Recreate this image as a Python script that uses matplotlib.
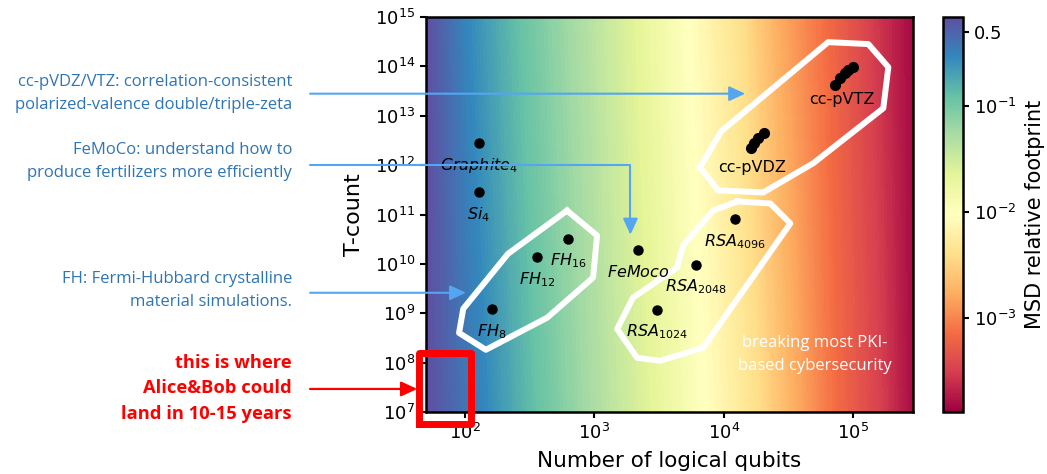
import numpy as np
import matplotlib
matplotlib.use("Agg")
import matplotlib.pyplot as plt
from matplotlib.colors import LogNorm
from matplotlib.cm import ScalarMappable

# algorithms: (logical qubits, T-count)
names = ["$Graphite_4$", "$Si_4$", "$FH_{8}$", "$FH_{12}$", "$FH_{16}$", "$FeMoco$",
         "$RSA_{1024}$", "$RSA_{2048}$", "$RSA_{4096}$"]
qubits = [128, 128, 162, 361, 631, 2180, 3050, 6120, 12250]
tcount = [2.75e12, 2.8e11, 1.2e9, 1.35e10, 3.2e10, 1.95e10, 1.17e9, 9.7e9, 8.0e10]

vdz_qubits = [16300, 17200, 18450, 20500]
vdz_tcount = [2.2e12, 2.77e12, 3.5e12, 4.4e12]
vtz_qubits = [72800, 79400, 86900, 91600, 100000]
vtz_tcount = [4.2e13, 5.8e13, 7.3e13, 8.4e13, 9.7e13]

# white outlines round the groups
fh_hull_q = [615, 1050, 977, 431, 145, 90, 97, 215]
fh_hull_t = [1.2e11, 3.75e10, 5.26e9, 8.1e8, 1.82e8, 4.0e8, 1.23e9, 1.6e10]
rsa_hull_q = [12700, 22900, 32700, 6930, 3220, 2140, 1500, 1990, 4365, 4850, 8280]
rsa_hull_t = [1.84e11, 1.67e11, 6.6e10, 2.0e8, 1.09e8, 1.25e8, 4.8e8, 2.07e9, 8.4e9, 2.35e10, 1.2e11]
cc_hull_q = [6560, 9550, 64100, 131000, 187000, 171000, 49100, 20200, 9060]
cc_hull_t = [9.0e11, 4.84e12, 3.1e14, 2.83e14, 9.66e13, 1.42e13, 1.09e12, 2.8e11, 3.07e11]

fp_values = [0.69, 0.29, 0.124, 0.053, 0.0223, 0.0095, 0.0040, 0.0017, 7.2e-4, 3.1e-4, 1.5e-4]
fp_qubits_low = [50, 143, 348, 960, 2790, 7180, 18450, 35650, 72800, 168000, 292000]
fp_qubits_high = [50, 105, 257, 730, 2120, 5310, 14000, 26300, 60800, 140600, 280000]

vmin, vmax = 1.3e-4, 0.69

fig = plt.figure(figsize=(10.47, 4.74), dpi=100)
ax = fig.add_axes([0.4069, 0.1308, 0.4651, 0.8333])
cax = fig.add_axes([0.9007, 0.1308, 0.0191, 0.8333])

# background
gq = np.logspace(np.log10(50), np.log10(2.9e5), 300)
gt = np.logspace(7, 15, 120)
low = np.interp(np.log10(gq), np.log10(fp_qubits_low), np.log10(fp_values))
high = np.interp(np.log10(gq), np.log10(fp_qubits_high), np.log10(fp_values))
w = ((np.log10(gt) - 7) / 8)[:, None]
Z = 10 ** ((1 - w) * low[None, :] + w * high[None, :])
norm = LogNorm(vmin=vmin, vmax=vmax)
levels = np.logspace(np.log10(vmin), np.log10(vmax), 150)
ax.contourf(gq, gt, Z, levels=levels, cmap="Spectral", norm=norm, extend="both")

# group outlines
for hq, ht in [(fh_hull_q, fh_hull_t), (rsa_hull_q, rsa_hull_t), (cc_hull_q, cc_hull_t)]:
    ax.plot(hq + hq[:1], ht + ht[:1], color="white", lw=4.3, solid_joinstyle="round")

ax.plot(qubits, tcount, "o", color="black", ms=6.5)
ax.plot(vdz_qubits, vdz_tcount, "o-", color="black", ms=7, lw=4)
ax.plot(vtz_qubits, vtz_tcount, "o-", color="black", ms=7, lw=4)

for n, q, t in zip(names, qubits, tcount):
    ax.annotate(n, (q, t), xytext=(0, -22), textcoords="offset pixels",
                ha="center", va="center", fontsize=11.5)
ax.annotate("cc-pVDZ", (vdz_qubits[0], vdz_tcount[0]), xytext=(1, -19),
            textcoords="offset pixels", ha="center", va="center", fontsize=11.5)
ax.annotate("cc-pVTZ", (vtz_qubits[0], vtz_tcount[0]), xytext=(6, -15),
            textcoords="offset pixels", ha="center", va="center", fontsize=11.5)

ax.text(0.799, 0.175, "breaking most PKI-", transform=ax.transAxes, color="white",
        ha="center", va="center", fontsize=12, family="Open Sans")
ax.text(0.799, 0.116, "based cybersecurity", transform=ax.transAxes, color="white",
        ha="center", va="center", fontsize=12, family="Open Sans")

ax.set_xscale("log")
ax.set_yscale("log")
ax.set_xlim(50, 2.9e5)
ax.set_ylim(1e7, 1e15)
ax.set_xticks([1e2, 1e3, 1e4, 1e5])
ax.set_yticks([10.0 ** k for k in range(7, 16)])
ax.minorticks_off()
ax.tick_params(labelsize=13, length=4.5, width=1.5)
for s in ax.spines.values():
    s.set_linewidth(1.8)
ax.set_xlabel("Number of logical qubits", fontsize=15.5)
ax.set_ylabel("T-count", fontsize=16)
ax.xaxis.set_label_coords(0.5, -0.1)
ax.yaxis.set_label_coords(-0.128, 0.5)

cb = fig.colorbar(ScalarMappable(norm=norm, cmap="Spectral"), cax=cax)
cb.set_ticks([0.5, 0.1, 0.01, 0.001])
cb.set_ticklabels(["0.5", "$10^{-1}$", "$10^{-2}$", "$10^{-3}$"])
cb.ax.minorticks_off()
cb.ax.tick_params(labelsize=13, length=4.5, width=1.5)
cb.outline.set_linewidth(1.8)
cb.set_label("MSD relative footprint", fontsize=15, labelpad=6)

# side notes
blue = "#2e75b6"
arrow_blue = "#55a6f2"
x_txt = 292 / 1047
notes = [("cc-pVDZ/VTZ: correlation-consistent", 82), ("polarized-valence double/triple-zeta", 105),
         ("FeMoCo: understand how to", 150), ("produce fertilizers more efficiently", 173),
         ("FH: Fermi-Hubbard crystalline", 279), ("material simulations.", 302)]
for s, py in notes:
    fig.text(x_txt, 1 - py / 474, s, ha="right", va="center", color=blue,
             fontsize=12, family="Open Sans")
for s, py in [("this is where", 363), ("Alice&Bob could", 388), ("land in 10-15 years", 414)]:
    fig.text(x_txt, 1 - py / 474, s, ha="right", va="center", color="#ff0000",
             fontsize=13.2, family="Open Sans", weight="bold")

x0 = (310 - 426) / 487
head = dict(arrowstyle="-|>,head_length=0.65,head_width=0.3", color=arrow_blue, lw=1.5,
            shrinkA=0, shrinkB=0, mutation_scale=15)
ax.annotate("", xy=(14650, 2.8e13), xytext=(x0, 2.8e13), textcoords=("axes fraction", "data"),
            arrowprops=head, annotation_clip=False)
ax.annotate("", xy=(102, 2.6e9), xytext=(x0, 2.6e9), textcoords=("axes fraction", "data"),
            arrowprops=head, annotation_clip=False)
ax.annotate("", xy=(1900, 3.9e10), xytext=(x0, 9.9e11), textcoords=("axes fraction", "data"),
            arrowprops=dict(head, connectionstyle="angle,angleA=0,angleB=90,rad=0"),
            annotation_clip=False)
ax.annotate("", xy=(-0.018, 2.93e7), xycoords=("axes fraction", "data"),
            xytext=(x0, 2.93e7), textcoords=("axes fraction", "data"),
            arrowprops=dict(head, color="#ff0000", lw=1.6), annotation_clip=False)

# red box
box_q = [44.5, 112, 112, 44.5]
box_t = [5.6e6, 5.6e6, 1.54e8, 1.54e8]
ax.plot(box_q + box_q[:1], box_t + box_t[:1], color="#ff0000", lw=5,
        solid_joinstyle="round", clip_on=False, zorder=5)

fig.savefig("out.png", dpi=100)
